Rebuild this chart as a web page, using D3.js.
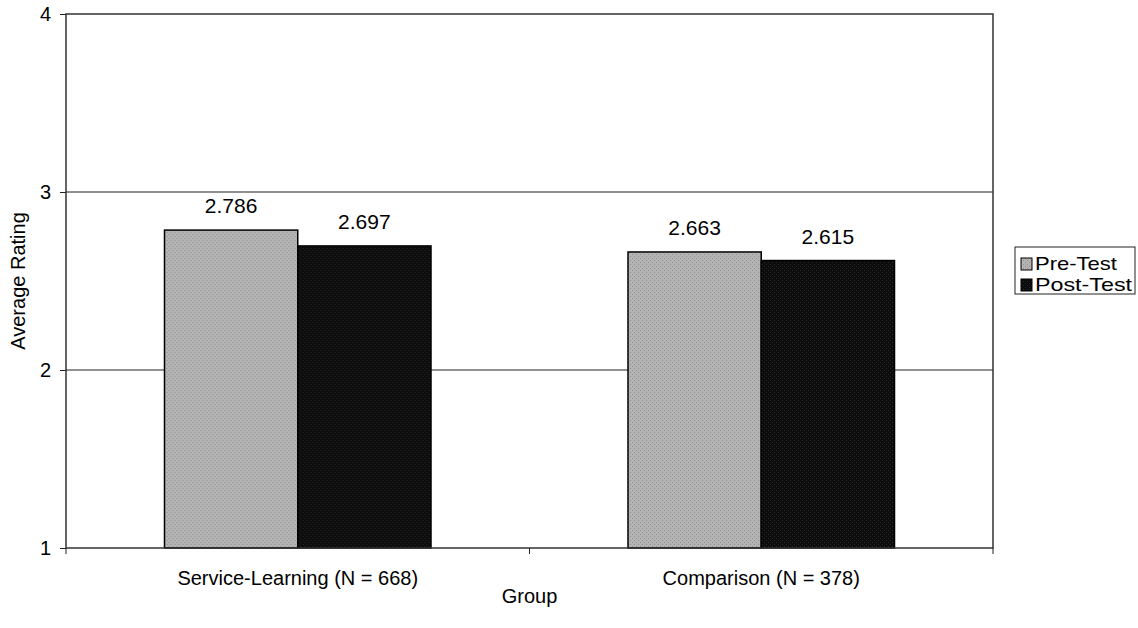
<!DOCTYPE html>
<html>
<head>
<meta charset="utf-8">
<script src="https://cdn.jsdelivr.net/npm/d3@7"></script>
<style>
  body { margin: 0; background: #fff; }
  text { font-family: "Liberation Sans", Arial, sans-serif; fill: #000; }
</style>
</head>
<body>
<svg id="chart"></svg>
<script>
// data
const groups = ["Service-Learning (N = 668)", "Comparison (N = 378)"];
const seriesNames = ["Pre-Test", "Post-Test"];
const preTest = [2.786, 2.663];
const postTest = [2.697, 2.615];
const yTicks = [1, 2, 3, 4];

const width = 1138;
const height = 628;
const margin = { left: 66, right: 145, top: 14, bottom: 80 };
const visWidth = width - margin.left - margin.right;
const visHeight = height - margin.top - margin.bottom;

const svg = d3.select('svg#chart').attr('width', width).attr('height', height);

// speckled fills, the original is a scan
const defs = svg.append('defs');
function speckle(id, base, dot) {
  const p = defs.append('pattern').attr('id', id).attr('patternUnits', 'userSpaceOnUse')
    .attr('width', 4).attr('height', 4);
  p.append('rect').attr('width', 4).attr('height', 4).attr('fill', base);
  p.append('rect').attr('x', 0).attr('y', 0).attr('width', 1).attr('height', 1).attr('fill', dot);
  p.append('rect').attr('x', 2).attr('y', 2).attr('width', 1).attr('height', 1).attr('fill', dot);
}
speckle('pat-pre', '#b4b4b4', '#8c8c8c');
speckle('pat-post', '#0c0c0c', '#2a2a2a');
const fills = ['url(#pat-pre)', 'url(#pat-post)'];

const g = svg.append('g').attr('transform', `translate(${margin.left},${margin.top})`);

const x0 = d3.scaleBand().domain(groups).range([0, visWidth]);
const x1 = d3.scaleBand().domain(seriesNames).range([0, x0.bandwidth() * 0.575]);
const y = d3.scaleLinear().domain([1, 4]).range([visHeight, 0]);

// gridlines
g.append('g').selectAll('line').data(yTicks.slice(1, 3)).enter().append('line')
  .attr('x1', 0).attr('x2', visWidth)
  .attr('y1', d => y(d)).attr('y2', d => y(d))
  .attr('stroke', '#222').attr('stroke-width', 1);

// bars
const rows = groups.map((gname, i) => ({ group: gname, values: [preTest[i], postTest[i]] }));
const groupOffset = (x0.bandwidth() - x1.range()[1]) / 2;
const grp = g.selectAll('g.grp').data(rows).enter().append('g')
  .attr('transform', d => `translate(${x0(d.group) + groupOffset},0)`);

grp.selectAll('rect').data(d => d.values.map((v, j) => ({ v, s: seriesNames[j], j })))
  .enter().append('rect')
  .attr('x', d => x1(d.s))
  .attr('y', d => y(d.v))
  .attr('width', x1.bandwidth())
  .attr('height', d => y(1) - y(d.v))
  .attr('fill', d => fills[d.j])
  .attr('stroke', '#000').attr('stroke-width', 1.5);

grp.selectAll('text').data(d => d.values.map((v, j) => ({ v, s: seriesNames[j] })))
  .enter().append('text')
  .attr('x', d => x1(d.s) + x1.bandwidth() / 2)
  .attr('y', d => y(d.v) - 17)
  .attr('text-anchor', 'middle')
  .style('font-size', '21px')
  .text(d => d.v.toFixed(3));

// plot frame
g.append('rect').attr('x', 0).attr('y', 0).attr('width', visWidth).attr('height', visHeight)
  .attr('fill', 'none').attr('stroke', '#333').attr('stroke-width', 1.5);

// y axis
const yAxis = d3.axisLeft(y).tickValues(yTicks).tickSize(6).tickPadding(9).tickFormat(d3.format('d'));
g.append('g').call(yAxis)
  .call(s => s.select('.domain').remove())
  .call(s => s.selectAll('line').attr('stroke', '#222'))
  .call(s => s.selectAll('text').style('font-size', '20px').attr('font-family', null));

// x axis
const xAxis = d3.axisBottom(x0).tickSize(0).tickPadding(37);
g.append('g').attr('transform', `translate(0,${visHeight})`).call(xAxis)
  .call(s => s.select('.domain').remove())
  .call(s => s.selectAll('text').style('font-size', '20px').attr('dy', 0).attr('font-family', null));
// tick marks between categories
g.append('g').selectAll('line').data([0, ...groups.map(d => x0(d) + x0.bandwidth())]).enter()
  .append('line')
  .attr('x1', d => d).attr('x2', d => d)
  .attr('y1', visHeight).attr('y2', visHeight + 6)
  .attr('stroke', '#222');

// axis titles
svg.append('text')
  .attr('transform', `translate(25,${margin.top + visHeight / 2}) rotate(-90)`)
  .attr('text-anchor', 'middle')
  .style('font-size', '20px')
  .text('Average Rating');
svg.append('text')
  .attr('x', margin.left + visWidth / 2)
  .attr('y', 603)
  .attr('text-anchor', 'middle')
  .style('font-size', '20px')
  .text('Group');

// legend
const legendWidths = [82, 97];
const legend = svg.append('g').attr('transform', 'translate(1015,247)');
legend.append('rect').attr('width', 120).attr('height', 47)
  .attr('fill', '#fff').attr('stroke', '#222').attr('stroke-width', 1);
seriesNames.forEach((name, i) => {
  const row = legend.append('g').attr('transform', `translate(6,${23 + i * 21})`);
  row.append('rect').attr('x', 0).attr('y', -12).attr('width', 11).attr('height', 12)
    .attr('fill', fills[i]).attr('stroke', '#000');
  row.append('text').attr('x', 14).attr('y', 0).style('font-size', '19px')
    .attr('textLength', legendWidths[i]).attr('lengthAdjust', 'spacingAndGlyphs')
    .text(name);
});
</script>
</body>
</html>
